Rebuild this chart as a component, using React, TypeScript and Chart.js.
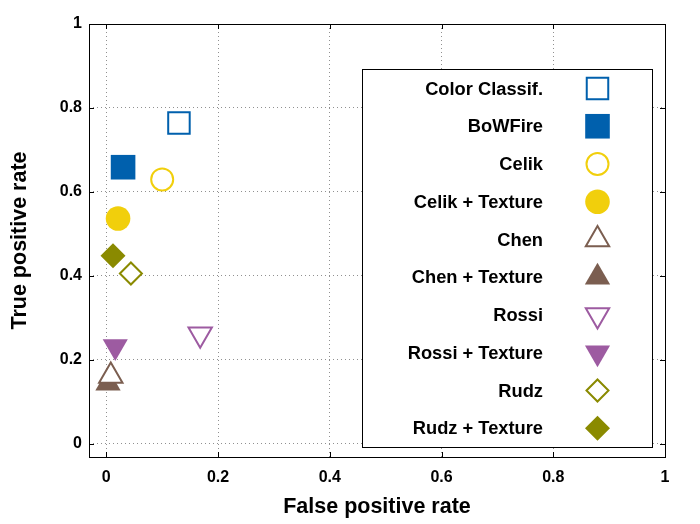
import React, { useEffect, useRef } from 'react';
import { Chart, registerables } from 'chart.js';
import { drawPoint } from 'chart.js/helpers';

Chart.register(...registerables);

// ---- data ----
const seriesNames = [
  'Color Classif.',
  'BoWFire',
  'Celik',
  'Celik + Texture',
  'Chen',
  'Chen + Texture',
  'Rossi',
  'Rossi + Texture',
  'Rudz',
  'Rudz + Texture',
];
const falsePositiveRates = [0.130, 0.030, 0.100, 0.021, 0.008, 0.003, 0.168, 0.016, 0.044, 0.012];
const truePositiveRates = [0.764, 0.659, 0.630, 0.537, 0.162, 0.145, 0.261, 0.232, 0.406, 0.448];
const xTickValues = [0, 0.2, 0.4, 0.6, 0.8, 1];
const yTickValues = [0, 0.2, 0.4, 0.6, 0.8, 1];

// ---- styles ----
const BLUE = '#0060ad';
const YELLOW = '#f1cf0c';
const BROWN = '#7b5e50';
const PURPLE = '#9d5ba1';
const OLIVE = '#8a8a00';

type MarkerStyle = { color: string; pointStyle: any; rotation: number; radius: number; filled: boolean };
const markerStyles: MarkerStyle[] = [
  { color: BLUE, pointStyle: 'rect', rotation: 0, radius: 15.2, filled: false },
  { color: BLUE, pointStyle: 'rect', rotation: 0, radius: 17.4, filled: true },
  { color: YELLOW, pointStyle: 'circle', rotation: 0, radius: 11, filled: false },
  { color: YELLOW, pointStyle: 'circle', rotation: 0, radius: 12.3, filled: true },
  { color: BROWN, pointStyle: 'triangle', rotation: 0, radius: 13.5, filled: false },
  { color: BROWN, pointStyle: 'triangle', rotation: 0, radius: 14.6, filled: true },
  { color: PURPLE, pointStyle: 'triangle', rotation: 180, radius: 13.5, filled: false },
  { color: PURPLE, pointStyle: 'triangle', rotation: 180, radius: 14.5, filled: true },
  { color: OLIVE, pointStyle: 'rectRot', rotation: 0, radius: 11, filled: false },
  { color: OLIVE, pointStyle: 'rectRot', rotation: 0, radius: 12.5, filled: true },
];

const SANS = "'Liberation Sans', Arial, sans-serif";
const NARROW = "'Liberation Sans Narrow', 'Liberation Sans', Arial, sans-serif";

const framePlugin = {
  id: 'frameAndLegend',
  afterDraw(chart: any) {
    const { ctx, chartArea } = chart;
    const { left, right, top, bottom } = chartArea;
    const xs = chart.scales.x;
    const ys = chart.scales.y;
    ctx.save();
    // inward ticks
    ctx.strokeStyle = '#000';
    ctx.lineWidth = 1;
    ctx.setLineDash([]);
    const tl = 5;
    ctx.beginPath();
    xTickValues.forEach((v) => {
      const px = Math.round(xs.getPixelForValue(v)) + 0.5;
      ctx.moveTo(px, bottom);
      ctx.lineTo(px, bottom - tl);
      ctx.moveTo(px, top);
      ctx.lineTo(px, top + tl);
    });
    yTickValues.forEach((v) => {
      const py = Math.round(ys.getPixelForValue(v)) + 0.5;
      ctx.moveTo(left, py);
      ctx.lineTo(left + tl, py);
      ctx.moveTo(right, py);
      ctx.lineTo(right - tl, py);
    });
    ctx.stroke();
    // frame
    ctx.strokeRect(Math.round(left) + 0.5, Math.round(top) + 0.5, Math.round(right - left), Math.round(bottom - top));

    // legend box
    const bx = Math.round(right - 303) + 0.5;
    const by = Math.round(top + 45) + 0.5;
    const bw = 290;
    const bh = 378;
    ctx.fillStyle = '#fff';
    ctx.fillRect(bx, by, bw, bh);
    ctx.strokeRect(bx, by, bw, bh);

    const textRight = bx + 180.5;
    const markerX = bx + 235;
    const rowTop = by + 19;
    const rowGap = 37.75;
    ctx.font = `bold 18.3px ${SANS}`;
    ctx.textAlign = 'right';
    ctx.textBaseline = 'middle';
    seriesNames.forEach((name, i) => {
      const y = rowTop + i * rowGap;
      ctx.fillStyle = '#000';
      ctx.fillText(name, textRight, y + 1);
      const st = markerStyles[i];
      ctx.fillStyle = st.filled ? st.color : '#ffffff';
      ctx.strokeStyle = st.color;
      ctx.lineWidth = 2;
      drawPoint(ctx, {
        pointStyle: st.pointStyle,
        rotation: st.rotation,
        radius: st.radius,
        borderWidth: st.filled ? 0 : 2,
      } as any, markerX, y);
    });
    ctx.restore();
  },
};

export default function App() {
  const canvasRef = useRef<HTMLCanvasElement | null>(null);

  useEffect(() => {
    const canvas = canvasRef.current;
    if (!canvas) return;
    const datasets = seriesNames.map((name, i) => {
      const st = markerStyles[i];
      return {
        label: name,
        data: [{ x: falsePositiveRates[i], y: truePositiveRates[i] }],
        pointStyle: st.pointStyle,
        pointRotation: st.rotation,
        pointRadius: st.radius,
        pointHoverRadius: st.radius,
        pointBackgroundColor: st.filled ? st.color : '#ffffff',
        pointBorderColor: st.color,
        pointBorderWidth: st.filled ? 0 : 2,
        pointHoverBorderWidth: st.filled ? 0 : 2,
        showLine: false,
      };
    });

    const tickFont = { family: NARROW, size: 16, weight: 'bold' as const };
    const titleFont = { family: SANS, size: 21.5, weight: 'bold' as const };

    const chart = new Chart(canvas, {
      type: 'scatter',
      data: { datasets: datasets as any },
      options: {
        animation: false,
        responsive: false,
        devicePixelRatio: 1,
        layout: { padding: { top: 24, right: 35, left: 0, bottom: 0 } },
        plugins: {
          legend: { display: false },
          tooltip: { enabled: false },
        },
        events: [],
        scales: {
          x: {
            type: 'linear',
            min: -0.031,
            max: 1,
            afterBuildTicks: (s: any) => {
              s.ticks = xTickValues.map((v) => ({ value: v }));
            },
            afterFit: (s: any) => {
              s.height = 67;
            },
            grid: { color: '#909090', lineWidth: 1, drawTicks: false },
            border: { display: false, dash: [1, 3] },
            ticks: {
              padding: 11,
              color: '#000',
              font: tickFont,
              callback: (v: any) => String(v),
            },
            title: {
              display: true,
              text: 'False positive rate',
              color: '#000',
              font: titleFont,
              padding: { top: 0, bottom: 4 },
            },
          },
          y: {
            type: 'linear',
            min: -0.031,
            max: 1,
            afterBuildTicks: (s: any) => {
              s.ticks = yTickValues.map((v) => ({ value: v }));
            },
            afterFit: (s: any) => {
              s.width = 89;
            },
            grid: { color: '#909090', lineWidth: 1, drawTicks: false },
            border: { display: false, dash: [1, 3] },
            ticks: {
              padding: 7,
              color: '#000',
              font: tickFont,
              callback: (v: any) => String(v),
            },
            title: {
              display: true,
              text: 'True positive rate',
              color: '#000',
              font: titleFont,
              padding: { top: 7, bottom: 0 },
            },
          },
        },
      } as any,
      plugins: [framePlugin],
    });
    return () => chart.destroy();
  }, []);

  return (
    <div style={{ position: 'fixed', left: 0, top: 0, width: 700, height: 524, background: '#fff' }}>
      <canvas ref={canvasRef} width={700} height={524} style={{ width: 700, height: 524, display: 'block' }} />
    </div>
  );
}
